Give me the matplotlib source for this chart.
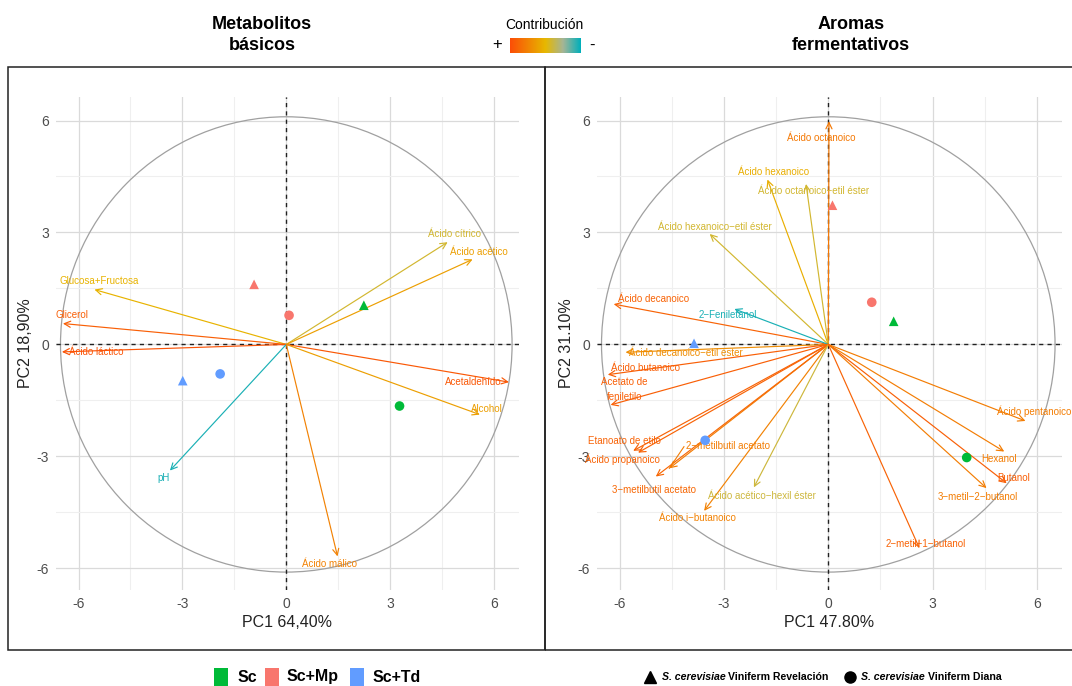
import matplotlib
matplotlib.use("Agg")
import matplotlib.pyplot as plt
import numpy as np
from matplotlib.colors import LinearSegmentedColormap
from matplotlib.patches import Ellipse, Rectangle
from matplotlib.lines import Line2D

plt.rcParams['font.family'] = ['Liberation Sans', 'DejaVu Sans']

# ---- Metabolitos básicos ----
met_vars = ['Glucosa+Fructosa', 'Glicerol', 'Ácido láctico', 'Ácido cítrico',
            'Ácido acético', 'Acetaldehído', 'Alcohol', 'pH', 'Ácido málico']
met_x = [-5.54, -6.45, -6.48, 4.66, 5.38, 6.43, 5.59, -3.36, 1.48]
met_y = [1.47, 0.56, -0.20, 2.74, 2.28, -1.01, -1.88, -3.38, -5.68]
met_contrib = [0.52, 0.92, 0.97, 0.42, 0.62, 0.95, 0.62, 0.04, 0.75]
met_lab_x = [-5.39, -6.20, -5.50, 4.87, 5.57, 5.39, 5.80, -3.54, 1.25]
met_lab_y = [1.69, 0.78, -0.19, 2.95, 2.47, -1.02, -1.72, -3.57, -5.87]

met_pt_x = [2.24, 3.27, -0.93, 0.08, -2.99, -1.91]
met_pt_y = [1.05, -1.65, 1.61, 0.78, -0.97, -0.79]

# ---- Aromas fermentativos ----
aro_vars = ['Ácido octanoico', 'Ácido hexanoico', 'Ácido octanoico\u2212etil éster',
            'Ácido hexanoico\u2212etil éster', 'Ácido decanoico', '2\u2212Feniletanol',
            'Ácido decanoico\u2212etil éster', 'Ácido butanoico', 'Acetato de\nfeniletilo',
            'Etanoato de etilo', 'Ácido propanoico', '2\u2212metilbutil acetato',
            '3\u2212metilbutil acetato', 'Ácido i\u2212butanoico',
            'Ácido acético\u2212hexil éster', 'Ácido pentanoico', 'Hexanol', 'Butanol',
            '3\u2212metil\u22122\u2212butanol', '2\u2212metil\u22121\u2212butanol']
aro_x = [0.02, -1.75, -0.64, -3.41, -6.17, -2.70, -5.83, -6.34, -6.26, -5.61,
         -5.47, -4.57, -4.96, -3.57, -2.14, 5.67, 5.06, 5.13, 4.55, 2.62]
aro_y = [5.98, 4.42, 4.30, 2.96, 1.08, 0.95, -0.21, -0.81, -1.62, -2.85,
         -2.90, -3.32, -3.54, -4.46, -3.83, -2.05, -2.87, -3.72, -3.85, -5.46]
aro_contrib = [0.80, 0.55, 0.42, 0.42, 0.90, 0.04, 0.70, 0.92, 0.92, 0.90,
               0.90, 0.78, 0.88, 0.75, 0.40, 0.78, 0.78, 0.92, 0.78, 0.90]
aro_lab_x = [-0.20, -1.57, -0.43, -3.25, -5.01, -2.90, -4.09, -5.25, -5.86, -5.86,
             -5.91, -2.87, -5.01, -3.77, -1.91, 5.91, 4.90, 5.33, 4.29, 2.81]
aro_lab_y = [5.52, 4.61, 4.10, 3.14, 1.23, 0.78, -0.24, -0.62, -1.20, -2.60,
             -3.08, -2.71, -3.91, -4.66, -4.05, -1.80, -3.06, -3.57, -4.10, -5.34]

aro_pt_x = [1.88, 3.98, 0.12, 1.25, -3.86, -3.54]
aro_pt_y = [0.62, -3.03, 3.73, 1.13, 0.03, -2.57]

# groups and strains shared by both sets of points
pt_group = ['Sc', 'Sc', 'Sc+Mp', 'Sc+Mp', 'Sc+Td', 'Sc+Td']
pt_strain = ['Revelación', 'Diana', 'Revelación', 'Diana', 'Revelación', 'Diana']

group_colors = {'Sc': '#00BA38', 'Sc+Mp': '#F8766D', 'Sc+Td': '#619CFF'}
strain_markers = {'Revelación': '^', 'Diana': 'o'}

contrib_cmap = LinearSegmentedColormap.from_list(
    'contrib', [(0, '#00AFBB'), (0.25, '#A5B596'), (0.5, '#E7B800'), (1, '#FC4E07')])


def biplot(ax, names, vx, vy, contrib, lx, ly, px, py, xlabel, ylabel):
    ax.set_xlim(-6.65, 6.72)
    ax.set_ylim(-6.58, 6.63)
    ticks = [-6, -3, 0, 3, 6]
    ax.set_xticks(ticks)
    ax.set_yticks(ticks)
    ax.set_xticklabels([str(t) for t in ticks])
    ax.set_yticklabels([str(t) for t in ticks])
    ax.set_xticks([-4.5, -1.5, 1.5, 4.5], minor=True)
    ax.set_yticks([-4.5, -1.5, 1.5, 4.5], minor=True)
    ax.grid(which='major', color='#DADADA', lw=0.9)
    ax.grid(which='minor', color='#EFEFEF', lw=0.8)
    ax.set_axisbelow(True)
    for s in ax.spines.values():
        s.set_visible(False)
    ax.tick_params(which='both', length=0, colors='#4D4D4D', labelsize=10, pad=5)

    ax.add_patch(Ellipse((0, 0), 2 * 6.52, 2 * 6.1, fill=False,
                         ec='#A0A0A0', lw=0.9, zorder=1))
    ax.axhline(0, color='#222222', lw=1.0, ls=(0, (3, 3)), zorder=2)
    ax.axvline(0, color='#222222', lw=1.0, ls=(0, (3, 3)), zorder=2)

    for name, x, y, c, tx, ty in zip(names, vx, vy, contrib, lx, ly):
        col = contrib_cmap(c)
        ax.annotate('', xy=(x, y), xytext=(0, 0),
                    arrowprops=dict(arrowstyle='->,head_length=0.45,head_width=0.22',
                                    color=col, lw=0.85, shrinkA=0, shrinkB=0,
                                    mutation_scale=10), zorder=3)
        ax.text(tx, ty, name, color=col, fontsize=7, ha='center', va='center',
                linespacing=1.6, zorder=4)

    for x, y, g, s in zip(px, py, pt_group, pt_strain):
        ax.scatter(x, y, s=48, color=group_colors[g], marker=strain_markers[s],
                   edgecolors='none', zorder=5)

    ax.set_xlabel(xlabel, fontsize=11.5, color='#222222', labelpad=3)
    ax.set_ylabel(ylabel, fontsize=11.5, color='#222222', labelpad=3)


fig = plt.figure(figsize=(10.72, 6.86), dpi=100)
W, H = 1072, 686

ax1 = fig.add_axes([56 / W, 1 - 590 / H, 463 / W, 493 / H])
biplot(ax1, met_vars, met_x, met_y, met_contrib, met_lab_x, met_lab_y,
       met_pt_x, met_pt_y, 'PC1 64,40%', 'PC2 18,90%')

ax2 = fig.add_axes([597 / W, 1 - 590 / H, 465 / W, 493 / H])
biplot(ax2, aro_vars, aro_x, aro_y, aro_contrib, aro_lab_x, aro_lab_y,
       aro_pt_x, aro_pt_y, 'PC1 47.80%', 'PC2 31.10%')
# connector from the repelled label to its arrow
ax2.plot([-4.57, -4.15], [-3.32, -2.74], color=contrib_cmap(0.78), lw=0.8, zorder=3)

# frames around the two panels
for x0, x1 in [(8, 545), (545, 1075)]:
    fig.add_artist(Rectangle((x0 / W, 1 - 650 / H), (x1 - x0) / W, (650 - 67) / H,
                             transform=fig.transFigure, fill=False,
                             ec='#222222', lw=1.1))

# panel titles
fig.text(262 / W, 1 - 35 / H, 'Metabolitos\nbásicos', ha='center', va='center',
         fontsize=13, fontweight='bold', linespacing=1.3)
fig.text(851 / W, 1 - 35 / H, 'Aromas\nfermentativos', ha='center', va='center',
         fontsize=13, fontweight='bold', linespacing=1.3)

# contribution colour key
fig.text(544 / W, 1 - 25 / H, 'Contribución', ha='center', va='center', fontsize=10)
fig.text(497 / W, 1 - 45 / H, '+', ha='center', va='center', fontsize=12)
fig.text(592 / W, 1 - 45 / H, '-', ha='center', va='center', fontsize=12)
cax = fig.add_axes([510 / W, 1 - 53 / H, 70 / W, 15 / H])
cax.imshow(np.linspace(1, 0, 200)[None, :], aspect='auto', cmap=contrib_cmap)
cax.set_axis_off()

# group legend
legend_y = 1 - 677 / H
for sq_x, tx, g in [(221, 238, 'Sc'), (272, 287, 'Sc+Mp'), (356.5, 373, 'Sc+Td')]:
    fig.add_artist(Rectangle(((sq_x - 7) / W, legend_y - 9 / H), 14 / W, 18 / H,
                             transform=fig.transFigure, color=group_colors[g], lw=0))
    fig.text(tx / W, legend_y, g, ha='left', va='center', fontsize=11.5,
             fontweight='bold')

# strain legend
for mx, it_x, rx, marker, strain in [(650, 726, 728, '^', 'Viniferm Revelación'),
                                     (850, 925, 928, 'o', 'Viniferm Diana')]:
    fig.add_artist(Line2D([mx / W], [legend_y], marker=marker, color='black', ms=8,
                          transform=fig.transFigure, ls='none'))
    fig.text(it_x / W, legend_y, 'S. cerevisiae', ha='right', va='center',
             fontsize=7.6, fontweight='bold', style='italic')
    fig.text(rx / W, legend_y, strain, ha='left', va='center', fontsize=7.6,
             fontweight='bold')

fig.savefig('out.png', dpi=100, facecolor='white')
